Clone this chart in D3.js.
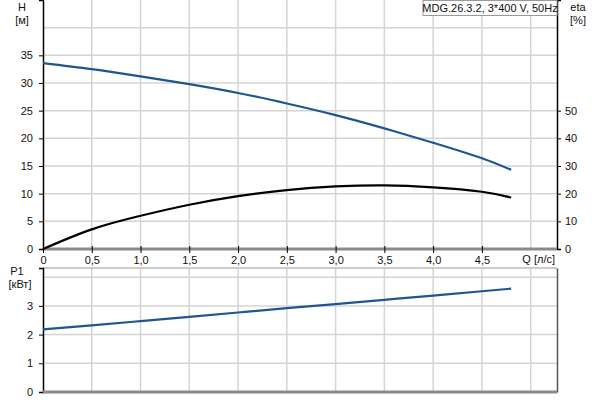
<!DOCTYPE html>
<html>
<head>
<meta charset="utf-8">
<script src="https://cdn.jsdelivr.net/npm/d3@7"></script>
<style>
body { margin: 0; background: #fff; }
svg { font-family: "Liberation Sans", Arial, sans-serif; font-size: 11px; }
</style>
</head>
<body>
<script>
// pump curve data
var flowQ = [0, 0.5, 1.0, 1.5, 2.0, 2.5, 3.0, 3.5, 4.0, 4.5, 4.8];
var headH = [33.6, 32.5, 31.2, 29.8, 28.2, 26.3, 24.2, 21.8, 19.2, 16.4, 14.3];
var etaVals = [0, 7.1, 12.0, 16.0, 19.1, 21.3, 22.6, 23.0, 22.3, 20.7, 18.6];
var powerP1 = [2.18, 2.32, 2.47, 2.62, 2.77, 2.92, 3.06, 3.21, 3.36, 3.51, 3.60];
var qTicks = [0, 0.5, 1.0, 1.5, 2.0, 2.5, 3.0, 3.5, 4.0, 4.5];
var hTicks = [0, 5, 10, 15, 20, 25, 30, 35];
var etaTicks = [0, 10, 20, 30, 40, 50];
var pTicks = [0, 1, 2, 3];
var title = "MDG.26.3.2, 3*400 V, 50Hz";

var W = 600, H = 400;
var left = 43, right = 557;
var topY0 = 0, topY1 = 249;
var botY0 = 268, botY1 = 392;

var svg = d3.select("body").append("svg").attr("width", W).attr("height", H);

var x = d3.scaleLinear().domain([0, 5.27]).range([left, right]);
var yH = d3.scaleLinear().domain([0, 45]).range([topY1, topY0]);
var yEta = d3.scaleLinear().domain([0, 90]).range([topY1, topY0]);
var yP = d3.scaleLinear().domain([0, 4.32]).range([botY1, botY0]);

var fmt = function (d) { return d3.format(d === 0 ? "d" : ".1f")(d).replace(".", ","); };
var intFmt = d3.format("d");
var gridColor = "#d4d4d4";

function grid(y, y0, y1, yvals) {
    var g = svg.append("g");
    g.selectAll(".v").data(d3.range(0.5, 5.01, 0.5)).enter().append("line")
        .attr("x1", function (d) { return x(d); }).attr("x2", function (d) { return x(d); })
        .attr("y1", y0).attr("y2", y1)
        .attr("stroke", gridColor).attr("stroke-width", 1.5);
    g.selectAll(".h").data(yvals).enter().append("line")
        .attr("x1", left).attr("x2", right)
        .attr("y1", function (d) { return y(d); }).attr("y2", function (d) { return y(d); })
        .attr("stroke", gridColor).attr("stroke-width", 1.5);
}
grid(yH, topY0, topY1, [5, 10, 15, 20, 25, 30, 35, 40]);
grid(yP, botY0, botY1, [1, 2, 3, 4]);
// top border of lower plot
svg.append("line").attr("x1", left).attr("x2", right).attr("y1", botY0).attr("y2", botY0)
    .attr("stroke", "#bbb").attr("stroke-width", 1.5);

// axes
var axL = svg.append("g").attr("transform", "translate(" + left + ",0)")
    .call(d3.axisLeft(yH).tickValues(hTicks).tickFormat(intFmt).tickSize(4).tickPadding(6));
var axR = svg.append("g").attr("transform", "translate(" + right + ",0)")
    .call(d3.axisRight(yEta).tickValues(etaTicks).tickFormat(intFmt).tickSize(4).tickPadding(4));
var axP = svg.append("g").attr("transform", "translate(" + left + ",0)")
    .call(d3.axisLeft(yP).tickValues(pTicks).tickFormat(intFmt).tickSize(4).tickPadding(6));
var axPR = svg.append("g").attr("transform", "translate(" + right + ",0)")
    .call(d3.axisRight(yP).tickValues([]).tickSize(0));
var axQ = svg.append("g").attr("transform", "translate(0," + topY1 + ")")
    .call(d3.axisBottom(x).tickValues(qTicks).tickFormat(fmt).tickSize(4).tickPadding(3));
[axL, axR, axP, axPR, axQ].forEach(function (a) {
    a.selectAll("text").attr("fill", "#111").style("font-size", "11px").style("font-family", "Liberation Sans, Arial, sans-serif");
    a.selectAll(".tick line").attr("stroke", "#000");
});
axL.select(".domain").attr("stroke", "#000").attr("stroke-width", 1.5);
axP.select(".domain").attr("stroke", "#000").attr("stroke-width", 1.5);
axR.select(".domain").attr("stroke", "#000").attr("stroke-width", 1.5);
axPR.select(".domain").attr("stroke", "#555").attr("stroke-width", 1.5);
axQ.select(".domain").remove();
axQ.selectAll(".tick line").attr("y1", -3);
axQ.insert("line", ":first-child").attr("x1", left).attr("x2", right).attr("y1", 0).attr("y2", 0)
    .attr("stroke", "#8a8a8a").attr("stroke-width", 3);
svg.append("line").attr("x1", left).attr("x2", right).attr("y1", botY1).attr("y2", botY1)
    .attr("stroke", "#8a8a8a").attr("stroke-width", 3);

// curves
var idx = d3.range(flowQ.length);
function curve(y, vals) {
    return d3.line().x(function (i) { return x(flowQ[i]); }).y(function (i) { return y(vals[i]); })
        .curve(d3.curveNatural)(idx);
}
svg.append("path").attr("d", curve(yH, headH)).attr("fill", "none")
    .attr("stroke", "#1f5591").attr("stroke-width", 2.2);
svg.append("path").attr("d", curve(yEta, etaVals)).attr("fill", "none")
    .attr("stroke", "#000").attr("stroke-width", 2.2);
svg.append("path").attr("d", curve(yP, powerP1)).attr("fill", "none")
    .attr("stroke", "#1f5591").attr("stroke-width", 2.2);

// labels
function label(tx, ty, s, anchor) {
    svg.append("text").attr("x", tx).attr("y", ty).attr("text-anchor", anchor || "middle")
        .attr("fill", "#111").text(s);
}
label(22, 11, "H");
label(22, 24, "[м]");
label(578, 11, "eta");
label(578, 24, "[%]");
label(17, 275, "P1");
label(20, 288, "[кВт]");
label(555, 263, "Q [л/с]", "end");

// title box
var tb = svg.append("g");
tb.append("rect").attr("x", 423).attr("y", 0.5).attr("width", 134).attr("height", 15)
    .attr("fill", "#fff").attr("stroke", "#999");
tb.append("text").attr("x", 490).attr("y", 12).attr("text-anchor", "middle").attr("fill", "#111").text(title);
</script>
</body>
</html>
